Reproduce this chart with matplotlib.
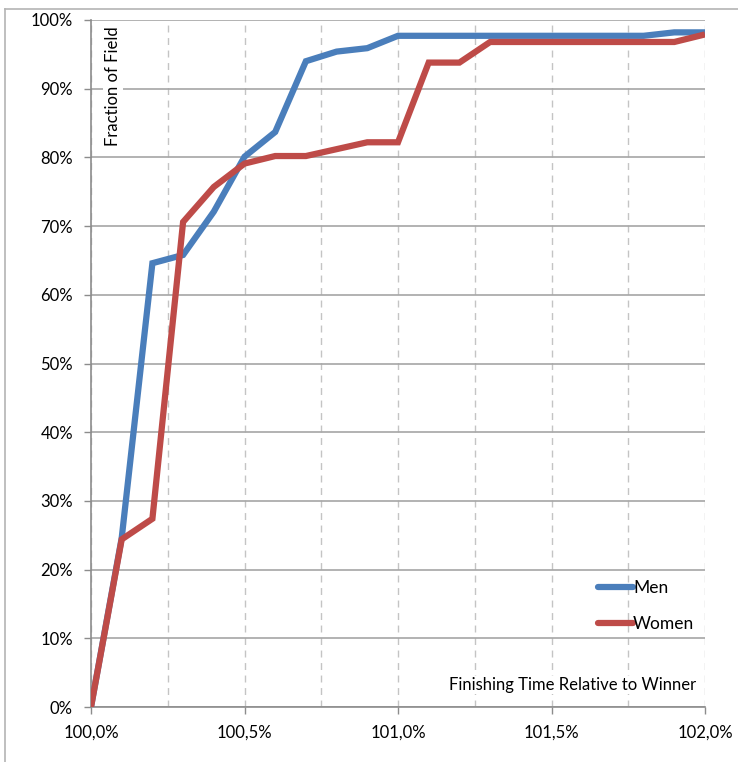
import matplotlib
matplotlib.use("Agg")
import matplotlib.pyplot as plt
from matplotlib.lines import Line2D
from matplotlib.ticker import FuncFormatter, MultipleLocator

plt.rcParams["font.family"] = ["Lato", "DejaVu Sans"]

# finishing time relative to the winner, in percent
finish_pct = [100.0, 100.1, 100.2, 100.3, 100.4, 100.5, 100.6, 100.7, 100.8, 100.9, 101.0,
              101.1, 101.2, 101.3, 101.4, 101.5, 101.6, 101.7, 101.8, 101.9, 102.0]

# cumulative share of the field finished within that time
men = [0.0, 24.6, 64.6, 65.8, 72.1, 80.1, 83.7, 94.0, 95.4, 95.9, 97.7,
       97.7, 97.7, 97.7, 97.7, 97.7, 97.7, 97.7, 97.7, 98.2, 98.2]
women = [0.0, 24.4, 27.4, 70.6, 75.7, 79.1, 80.2, 80.2, 81.2, 82.2, 82.2,
         93.8, 93.8, 96.8, 96.8, 96.8, 96.8, 96.8, 96.8, 96.8, 97.9]

series_names = ["Men", "Women"]
colors = ["#4a7ebb", "#be4b48"]

fig = plt.figure(figsize=(7.38, 7.62), dpi=100)
W, H = 738, 762
ax = fig.add_axes([91 / W, 1 - 707 / H, (705 - 91) / W, (707 - 20) / H])

for vals, name, c in zip([men, women], series_names, colors):
    ax.plot(finish_pct, vals, color=c, lw=4.5, label=name,
            solid_joinstyle="miter", solid_capstyle="butt", zorder=3)

ax.set_xlim(100.0, 102.0)
ax.set_ylim(0, 100)
ax.xaxis.set_major_locator(MultipleLocator(0.5))
ax.xaxis.set_minor_locator(MultipleLocator(0.25))
ax.yaxis.set_major_locator(MultipleLocator(10))
ax.xaxis.set_major_formatter(FuncFormatter(lambda v, p: f"{v:.1f}%".replace(".", ",")))
ax.yaxis.set_major_formatter(FuncFormatter(lambda v, p: f"{v:.0f}%"))

grid_c = "#a6a6a6"
ax.grid(axis="y", which="major", color=grid_c, lw=1.2, zorder=0)
ax.grid(axis="x", which="both", color="#c4c4c4", lw=1.0, ls=(0, (5, 4)), zorder=0)
for s in ["top", "right"]:
    ax.spines[s].set_visible(False)
for s in ["left", "bottom"]:
    ax.spines[s].set_color("#8c8c8c")
    ax.spines[s].set_linewidth(1.2)

ax.tick_params(axis="both", which="major", direction="out", length=5, width=1.0,
               color="#8c8c8c", labelsize=12, labelcolor="black")
ax.tick_params(axis="x", which="minor", length=0)
ax.tick_params(axis="x", pad=8)
ax.tick_params(axis="y", pad=8)

ax.text(0.036, 0.99, "Fraction of Field", transform=ax.transAxes, rotation=90,
        ha="center", va="top", fontsize=12,
        bbox=dict(facecolor="white", edgecolor="none", pad=1.5), zorder=2)
ax.text(0.985, 0.032, "Finishing Time Relative to Winner", transform=ax.transAxes,
        ha="right", va="center", fontsize=12,
        bbox=dict(facecolor="white", edgecolor="none", pad=1.0), zorder=2)

leg = ax.legend(loc="upper left", bbox_to_anchor=(0.812, 0.198), frameon=False,
                fontsize=12.5, handlelength=2.0, handletextpad=0.0,
                labelspacing=1.2, borderpad=0)
for h in leg.get_lines():
    h.set_solid_capstyle("round")

# outer chart border
fig.add_artist(Line2D([5 / W, 1.0], [1 - 9 / H, 1 - 9 / H], color="#b4b4b4", lw=1.2))
fig.add_artist(Line2D([5 / W, 5 / W], [0.0, 1 - 9 / H], color="#b4b4b4", lw=1.2))

fig.savefig("out.png", dpi=100)
